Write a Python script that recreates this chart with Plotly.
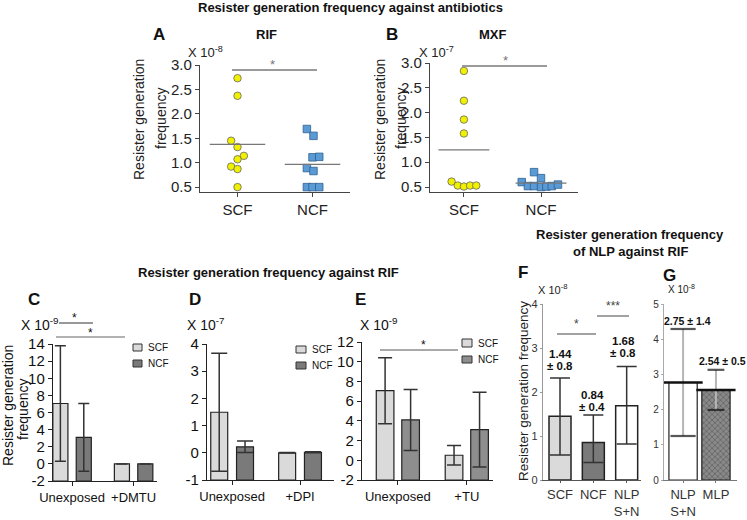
import numpy as np
import plotly.graph_objects as go

W, H = 747, 520
FONT = "Liberation Sans, Arial, sans-serif"
NARROW = "Liberation Sans Narrow, Liberation Sans, Arial, sans-serif"

# ---------------- data ----------------
dot_categories = ["SCF", "NCF"]
# Panel A (RIF, x 10^-8)
rif_scf = [2.73, 2.37, 1.45, 1.32, 1.14, 1.07, 0.92, 0.87, 0.50]
rif_ncf = [1.69, 1.55, 1.11, 1.12, 0.89, 0.83, 0.50, 0.50, 0.50]
# Panel B (MXF, x 10^-7)
mxf_scf = [2.84, 2.24, 1.86, 1.58, 0.61, 0.53, 0.51, 0.53, 0.53]
mxf_ncf = [0.60, 0.52, 0.52, 0.50, 0.51, 0.52, 0.55, 0.80, 0.68]
# horizontal spread of the dots (category units)
rif_scf_spread = [0, 0, -0.085, 0, 0.085, 0, -0.085, 0, 0]
rif_ncf_spread = [-0.075, 0.013, 0, 0.09, -0.075, 0.013, -0.075, 0, 0.09]
mxf_scf_spread = [0, 0, 0, 0, -0.16, -0.08, 0, 0.08, 0.16]
mxf_ncf_spread = [-0.25, -0.17, -0.09, 0, 0.07, 0.14, 0.22, -0.09, 0]

# Panel C (x 10^-9)
c_groups = ["Unexposed", "+DMTU"]
c_scf = [7.05, 0.0]
c_scf_err = [6.75, 0.0]
c_ncf = [3.1, 0.0]
c_ncf_err = [3.95, 0.0]
# Panel D (x 10^-7)
d_groups = ["Unexposed", "+DPI"]
d_scf = [1.49, 0.0]
d_scf_err = [2.17, 0.01]
d_ncf = [0.22, 0.02]
d_ncf_err = [0.21, 0.02]
# Panel E (x 10^-9)
e_groups = ["Unexposed", "+TU"]
e_scf = [7.06, 0.51]
e_scf_err = [3.35, 1.0]
e_ncf = [4.09, 3.11]
e_ncf_err = [3.1, 3.8]
# Panel F (x 10^-8)
f_groups = ["SCF", "NCF", "NLP<br>S+N"]
f_vals = [1.45, 0.85, 1.69]
f_err_up = [0.87, 0.63, 0.89]
f_err_down = [0.88, 0.45, 0.87]
f_text = [("1.44", "± 0.8"), ("0.84", "± 0.4"), ("1.68", "± 0.8")]
# Panel G (x 10^-8)
g_groups = ["NLP<br>S+N", "MLP"]
g_vals = [2.77, 2.56]
g_err = [1.52, 0.57]
g_text = ["2.75 ± 1.4", "2.54 ± 0.5"]

# ---------------- helpers ----------------
def fx(p):
    return p / W

def fy(p):
    return 1 - p / H

layout = dict(
    template="none",
    width=W, height=H, margin=dict(l=0, r=0, t=0, b=0, pad=0),
    paper_bgcolor="white", plot_bgcolor="white", showlegend=False,
    barmode="overlay", font=dict(family=FONT, color="#111"),
)
annotations = []
shapes = []


def axes(n, x0, x1, ytop, ybot, xr, yr, xticks, xtext, yticks, ytext,
         xfont=13, yfont=14, lc="#222", ylc=None, tc="#111", xtl=4, ytl=4):
    s = "" if n == 1 else str(n)
    layout["xaxis" + s] = dict(
        domain=[fx(x0), fx(x1)], range=xr, anchor="y" + s, showgrid=False,
        zeroline=False, showline=True, linecolor=lc, linewidth=1.2,
        automargin=False,
        ticks="outside", ticklen=xtl, tickcolor=lc, tickvals=xticks,
        ticktext=xtext, tickfont=dict(size=xfont, color=tc), fixedrange=True)
    layout["yaxis" + s] = dict(
        domain=[fy(ybot), fy(ytop)], range=yr, anchor="x" + s, showgrid=False,
        zeroline=False, showline=True, linecolor=ylc or lc, linewidth=1.2,
        automargin=False,
        ticks="outside", ticklen=ytl, tickcolor=ylc or lc, tickvals=yticks,
        ticktext=ytext, tickfont=dict(size=yfont, color=tc), fixedrange=True)


def text(t, x, y, size=13, bold=False, color="#111", xanchor="center",
         angle=0, family=FONT):
    annotations.append(dict(
        text=("<b>%s</b>" % t) if bold else t, x=fx(x), y=fy(y),
        xref="paper", yref="paper", showarrow=False, xanchor=xanchor,
        yanchor="middle", textangle=angle,
        font=dict(size=size, color=color, family=family)))


def hline(x0, x1, y, color="#333", width=1):
    shapes.append(dict(type="line", xref="paper", yref="paper",
                       x0=fx(x0), x1=fx(x1), y0=fy(y), y1=fy(y),
                       line=dict(color=color, width=width)))


def legend_box(x0, y0, x1, y1, fill, label):
    shapes.append(dict(type="rect", xref="paper", yref="paper",
                       x0=fx(x0), x1=fx(x1), y0=fy(y1), y1=fy(y0),
                       fillcolor=fill, line=dict(color="#333", width=1)))
    text(label, x1 + 4, (y0 + y1) / 2, size=10, xanchor="left", family=NARROW)


fig = go.Figure()

# ---------------- Panels A, B (dot plots) ----------------
def dot_panel(n, scf, ncf, scf_sp, ncf_sp, half):
    xa, ya = ("x" if n == 1 else "x%d" % n), ("y" if n == 1 else "y%d" % n)
    fig.add_trace(go.Scatter(
        x=np.array(scf_sp) + 0, y=scf, mode="markers", xaxis=xa, yaxis=ya,
        marker=dict(symbol="circle", size=7.5, color="#f0f000",
                    line=dict(color="#666", width=0.8))))
    fig.add_trace(go.Scatter(
        x=np.array(ncf_sp) + 1, y=ncf, mode="markers", xaxis=xa, yaxis=ya,
        marker=dict(symbol="square", size=7.5, color="#5b9bd5",
                    line=dict(color="#2f5f92", width=0.8))))
    for i, vals in enumerate([scf, ncf]):
        m = float(np.mean(vals))
        fig.add_trace(go.Scatter(
            x=[i - half, i + half], y=[m, m], mode="lines", xaxis=xa,
            yaxis=ya, line=dict(color="#777", width=1.3)))


dot_panel(1, rif_scf, rif_ncf, rif_scf_spread, rif_ncf_spread, 0.37)
dot_panel(2, mxf_scf, mxf_ncf, mxf_scf_spread, mxf_ncf_spread, 0.33)
dot_ticks = [0.5, 1.0, 1.5, 2.0, 2.5, 3.0]
dot_ticktext = ["%.1f" % v for v in dot_ticks]
axes(1, 200, 350, 65, 192, [-0.5, 1.5], [0.4, 3.0], [0, 1], dot_categories,
     dot_ticks, dot_ticktext, xfont=15, yfont=15, lc="#444", tc="#222")
axes(2, 430, 578, 63, 192, [-0.44, 1.48], [0.4, 3.0], [0, 1], dot_categories,
     dot_ticks, dot_ticktext, xfont=15, yfont=15, lc="#444", tc="#222")

# ---------------- Panels C, D, E (grouped bars) ----------------
SCF_COL = "#dadada"


def grouped(n, groups, scf, scf_err, ncf, ncf_err, base, ncf_col, sep, bw, cap):
    xa, ya = "x%d" % n, "y%d" % n
    pos = np.arange(len(groups))
    for vals, errs, col, off in [(scf, scf_err, SCF_COL, -sep),
                                 (ncf, ncf_err, ncf_col, sep)]:
        fig.add_trace(go.Bar(
            x=pos, y=np.array(vals) - base, base=base, width=bw,
            offset=off - bw / 2, xaxis=xa, yaxis=ya,
            marker=dict(color=col, line=dict(color="#222", width=1.2)),
            error_y=dict(type="data", array=errs, color="#333",
                         thickness=1.5, width=cap)))


grouped(3, c_groups, c_scf, c_scf_err, c_ncf, c_ncf_err, -2, "#7a7a7a", 0.19, 0.245, 5.5)
grouped(4, d_groups, d_scf, d_scf_err, d_ncf, d_ncf_err, -1, "#7a7a7a", 0.19, 0.25, 8)
grouped(5, e_groups, e_scf, e_scf_err, e_ncf, e_ncf_err, -2, "#8e8e8e", 0.185, 0.256, 7)
axes(3, 53, 157, 344, 481, [-0.31, 1.38], [-2, 14], [0, 1], c_groups,
     list(range(-2, 15, 2)), [str(v) for v in range(-2, 15, 2)], yfont=15)
axes(4, 207, 334, 344, 480, [-0.37, 1.5], [-1, 4], [0, 1], d_groups,
     list(range(-1, 5)), [str(v) for v in range(-1, 5)], yfont=15)
axes(5, 362, 493, 342, 480, [-0.52, 1.38], [-2, 12], [0, 1], e_groups,
     list(range(-2, 13, 2)), [str(v) for v in range(-2, 13, 2)], yfont=15)

# ---------------- Panel F ----------------
fpos = np.arange(len(f_groups))
fig.add_trace(go.Bar(
    x=fpos, y=f_vals, width=0.66, xaxis="x6", yaxis="y6",
    marker=dict(color=[SCF_COL, "#7a7a7a", "white"],
                line=dict(color="#222", width=1.5)),
    error_y=dict(type="data", symmetric=False, array=f_err_up,
                 arrayminus=f_err_down, color="#333", thickness=1.5, width=10)))
axes(6, 543, 641, 304, 480, [-0.51, 2.43], [0, 4], list(fpos), f_groups,
     [0, 1, 2, 3, 4], ["0", "1", "2", "3", "4"], xfont=13, yfont=11,
     lc="#555", ylc="#999", tc="#333", xtl=2, ytl=2)

# ---------------- Panel G ----------------
gpos = np.arange(len(g_groups))
fig.add_trace(go.Bar(
    x=gpos, y=g_vals, width=0.86, xaxis="x7", yaxis="y7",
    marker=dict(color=["white", "#8a8a8a"],
                line=dict(color="#222", width=1.2),
                pattern=dict(shape=["", "x"], fgcolor="#1e1e1e",
                             fillmode="overlay", size=4, solidity=0.4)),
    error_y=dict(type="data", array=g_err, color="#b5b5b5", thickness=2,
                 width=0)))
g_lo = np.array(g_vals) - np.array(g_err)
g_hi = np.array(g_vals) + np.array(g_err)
fig.add_trace(go.Scatter(
    x=np.concatenate([gpos, gpos]), y=np.concatenate([g_hi, g_lo]),
    mode="markers", xaxis="x7", yaxis="y7",
    marker=dict(symbol="line-ew", size=[18, 12, 18, 12],
                line=dict(color="#111", width=2.2))))
fig.add_trace(go.Scatter(
    x=gpos, y=g_vals, mode="markers", xaxis="x7", yaxis="y7",
    marker=dict(symbol="line-ew", size=28, line=dict(color="#111", width=2.5))))
axes(7, 664, 737, 304, 480, [-0.58, 1.64], [0, 5], list(gpos), g_groups,
     [0, 1, 2, 3, 4, 5], ["0", "1", "2", "3", "4", "5"], xfont=13, yfont=10,
     lc="#777", ylc="#aaa", tc="#333", xtl=2, ytl=2)

# ---------------- texts ----------------
text("Resister generation frequency against antibiotics", 350, 8, 13, True)
text("Resister generation frequency against RIF", 268, 272, 13, True)
text("Resister generation frequency", 630, 235, 13, True)
text("of NLP against RIF", 630, 251, 13, True)

for lab, x, y in [("A", 159, 35), ("B", 392, 35), ("C", 34, 299), ("D", 195, 299),
                  ("E", 360, 299), ("F", 523, 272), ("G", 669, 275)]:
    text(lab, x, y, 17, True)
text("RIF", 266, 35, 13, True)
text("MXF", 493, 35, 13, True)

text("X 10<sup>-8</sup>", 205, 52, 13, color="#222")
text("X 10<sup>-7</sup>", 436, 52, 13, color="#222")
text("X 10<sup>-9</sup>", 40, 324, 14)
text("X 10<sup>-7</sup>", 206, 324, 14)
text("X 10<sup>-9</sup>", 379, 324, 14)
text("X 10<sup>-8</sup>", 552, 289, 11, color="#222")
text("X 10<sup>-8</sup>", 681, 289, 10, color="#222")

text("Resister generation", 139, 120, 14, angle=-90, color="#222")
text("frequency", 161, 119, 14, angle=-90, color="#222")
text("Resister generation", 380, 120, 14, angle=-90, color="#222")
text("frequency", 401, 119, 14, angle=-90, color="#222")
text("Resister generation", 8, 406, 14, angle=-90)
text("frequency", 23, 410, 14, angle=-90)
text("Resister generation frequency", 523, 391, 13.5, angle=-90, color="#222")

# significance marks
hline(232, 317, 70, "#9a9a9a", 2)
text("*", 272, 64, 13, color="#777")
hline(462, 547, 66, "#9a9a9a", 2)
text("*", 505, 60, 13, color="#777")
hline(59, 93, 323, "#333", 1)
text("*", 74, 318, 12)
hline(56, 125, 337, "#999", 1.5)
text("*", 90, 333, 12)
hline(380, 458, 350, "#555", 1)
text("*", 424, 345, 12)
hline(557, 596, 334, "#444", 1)
text("*", 576, 324, 12, color="#444")
hline(597, 629, 316, "#444", 1)
text("***", 613, 306, 12, color="#444")

# legends
legend_box(133, 344, 142, 351, SCF_COL, "SCF")
legend_box(133, 360, 142, 367, "#7a7a7a", "NCF")
legend_box(296, 346, 306, 353, SCF_COL, "SCF")
legend_box(296, 362, 306, 369, "#7a7a7a", "NCF")
legend_box(462, 339, 472, 347, SCF_COL, "SCF")
legend_box(462, 356, 472, 363, "#8e8e8e", "NCF")

# value labels F, G
for (l1, l2), x, y in zip(f_text, [560, 592, 623], [354, 395, 341]):
    text(l1, x, y, 11.5, True)
    text(l2, x, y + 12, 11.5, True)
text(g_text[0], 687, 321, 10.5, True)
text(g_text[1], 722, 361, 10.5, True)

layout["annotations"] = annotations
layout["shapes"] = shapes
fig.update_layout(**layout)
fig.write_html(
    "out.html",
    config={"displayModeBar": False, "staticPlot": True},
    post_script="document.body.style.margin='0';"
                "document.body.style.overflow='hidden';")
